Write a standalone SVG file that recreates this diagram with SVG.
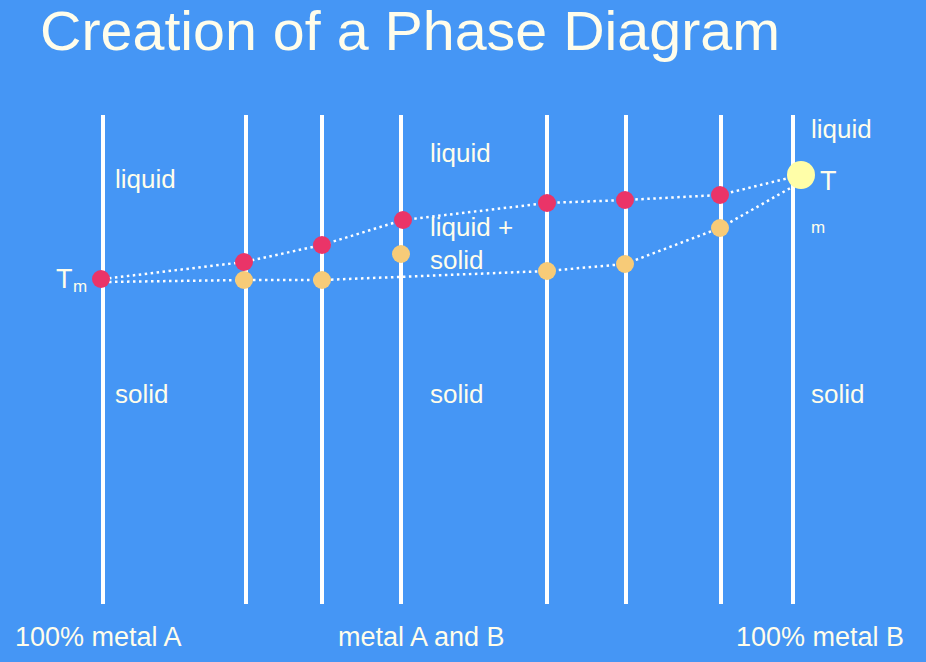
<svg xmlns="http://www.w3.org/2000/svg" width="926" height="662" viewBox="0 0 926 662">
<style>
text{font-family:"Liberation Sans",Arial,sans-serif;fill:#FFFDEB}
.v{stroke:#fff;stroke-width:4}
.d{fill:none;stroke:#fff;stroke-width:2.5;stroke-dasharray:2.5 3.5}
.r{fill:#EA3468}.o{fill:#F7CB78}
.l{font-size:26px}
.b{font-size:27px}
</style>
<rect width="926" height="662" fill="#4596F5"/>
<text x="40" y="50" font-size="55" textLength="740" lengthAdjust="spacingAndGlyphs">Creation of a Phase Diagram</text>
<g id="verticals">
<line class="v" x1="103" y1="115" x2="103" y2="604"/>
<line class="v" x1="246" y1="115" x2="246" y2="604"/>
<line class="v" x1="322" y1="115" x2="322" y2="604"/>
<line class="v" x1="401" y1="115" x2="401" y2="604"/>
<line class="v" x1="547" y1="115" x2="547" y2="604"/>
<line class="v" x1="626" y1="115" x2="626" y2="604"/>
<line class="v" x1="721" y1="115" x2="721" y2="604"/>
<line class="v" x1="793" y1="115" x2="793" y2="604"/>
</g>
<g id="connectors">
<polyline class="d" points="103,279 244,262 322,245 403,220 547,203 625,200 720,195 801,175"/>
<polyline class="d" points="103,282 244,280 322,280 547,271 625,264 720,228 801,182"/>
</g>
<g id="dots">
<circle class="r" cx="101" cy="279" r="9"/>
<circle class="r" cx="244" cy="262" r="9"/>
<circle class="r" cx="322" cy="245" r="9"/>
<circle class="r" cx="403" cy="220" r="9"/>
<circle class="r" cx="547" cy="203" r="9"/>
<circle class="r" cx="625" cy="200" r="9"/>
<circle class="r" cx="720" cy="195" r="9"/>
<circle class="o" cx="244" cy="280" r="9"/>
<circle class="o" cx="322" cy="280" r="9"/>
<circle class="o" cx="401" cy="254" r="9"/>
<circle class="o" cx="547" cy="271" r="9"/>
<circle class="o" cx="625" cy="264" r="9"/>
<circle class="o" cx="720" cy="228" r="9"/>
<circle cx="801" cy="175" r="14" fill="#FFFEA8"/>
</g>
<g id="labels">
<text x="115" y="188" class="l">liquid</text>
<text x="430" y="162" class="l">liquid</text>
<text x="811" y="138" class="l">liquid</text>
<text x="430" y="236" class="l">liquid +</text>
<text x="430" y="269" class="l">solid</text>
<text x="115" y="403" class="l">solid</text>
<text x="430" y="403" class="l">solid</text>
<text x="811" y="403" class="l">solid</text>
<text x="56" y="288" font-size="27">T</text>
<text x="73" y="292" font-size="17">m</text>
<text x="820" y="190" font-size="27">T</text>
<text x="811" y="233" font-size="17">m</text>
<text x="15" y="646" class="b">100% metal A</text>
<text x="338" y="646" class="b">metal A and B</text>
<text x="736" y="646" class="b">100% metal B</text>
</g>
</svg>
